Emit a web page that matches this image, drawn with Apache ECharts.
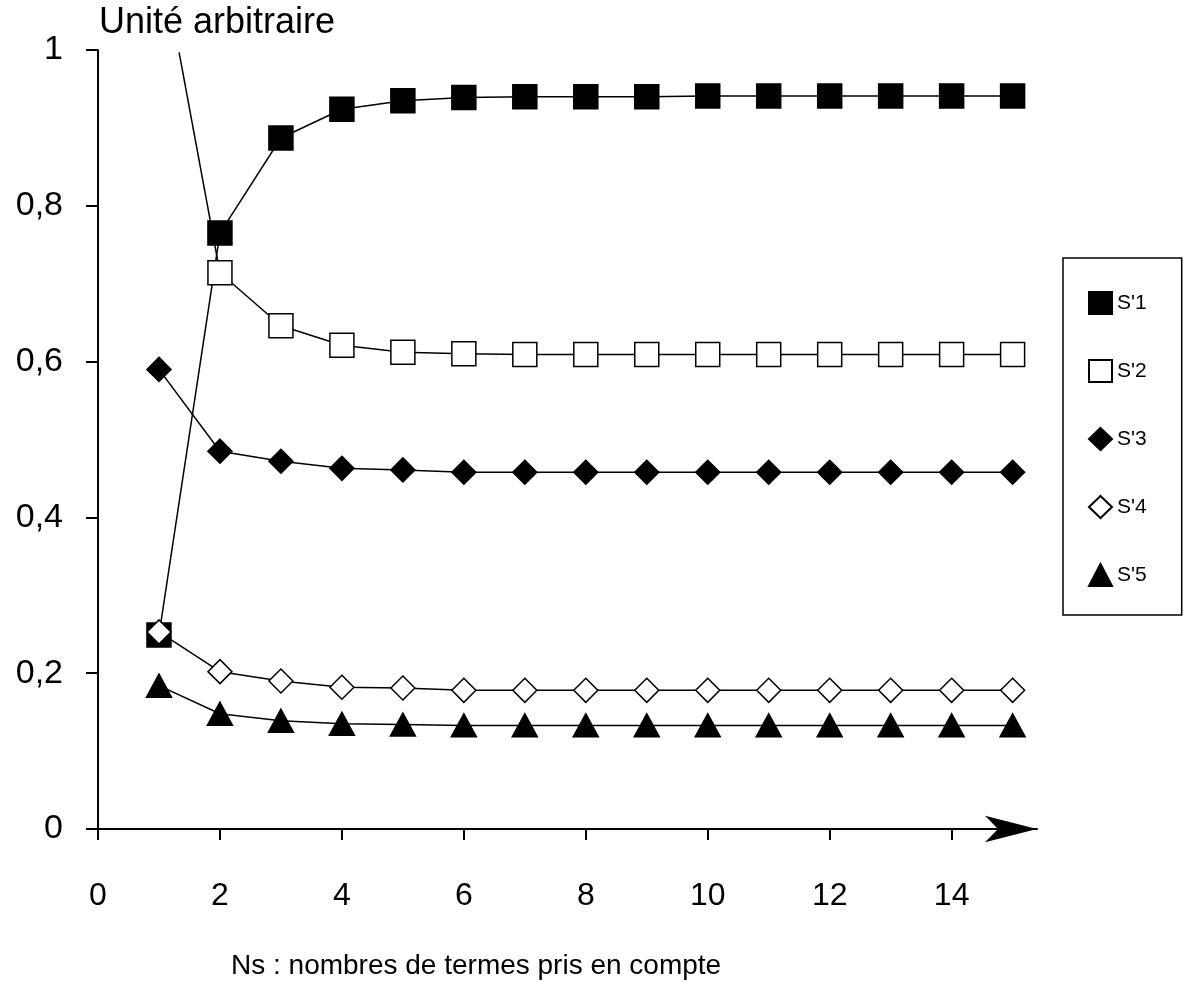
<!DOCTYPE html>
<html>
<head>
<meta charset="utf-8">
<script src="https://cdn.jsdelivr.net/npm/echarts@6/dist/echarts.min.js"></script>
<style>html,body{margin:0;padding:0;background:#fff}#c{width:1186px;height:997px}</style>
</head>
<body>
<div id="c"></div>
<script>
const xValues = [1, 2, 3, 4, 5, 6, 7, 8, 9, 10, 11, 12, 13, 14, 15];
const seriesNames = ["S'1", "S'2", "S'3", "S'4", "S'5"];
const s1 = [0.249, 0.765, 0.887, 0.924, 0.935, 0.939, 0.940, 0.940, 0.940, 0.941, 0.941, 0.941, 0.941, 0.941, 0.941];
const s2 = [null, 0.714, 0.646, 0.621, 0.612, 0.610, 0.609, 0.609, 0.609, 0.609, 0.609, 0.609, 0.609, 0.609, 0.609];
const s3 = [0.590, 0.485, 0.472, 0.463, 0.461, 0.458, 0.458, 0.458, 0.458, 0.458, 0.458, 0.458, 0.458, 0.458, 0.458];
const s4 = [0.253, 0.202, 0.190, 0.182, 0.181, 0.178, 0.178, 0.178, 0.178, 0.178, 0.178, 0.178, 0.178, 0.178, 0.178];
const s5 = [0.184, 0.148, 0.139, 0.135, 0.134, 0.133, 0.133, 0.133, 0.133, 0.133, 0.133, 0.133, 0.133, 0.133, 0.133];
const xTicks = [0, 2, 4, 6, 8, 10, 12, 14];
const yAxisTitle = "Unité arbitraire";
const xAxisTitle = "Ns : nombres de termes pris en compte";
const leaderLine = [[1.33, 0.997], [2, 0.714]];

const FONT = "'Liberation Sans', Arial, Helvetica, sans-serif";
const pair = arr => xValues.map((x, i) => [x, arr[i]]).filter(p => p[1] !== null);

const styles = [
  { symbol: 'rect', size: 24, fill: '#000' },
  { symbol: 'rect', size: 24, fill: '#fff' },
  { symbol: 'diamond', size: 24, fill: '#000' },
  { symbol: 'diamond', size: 24, fill: '#fff' },
  { symbol: 'triangle', size: [25, 23], fill: '#000' }
];
const dataSets = [s1, s2, s3, s4, s5];

const series = dataSets.map((d, i) => {
  const s = {
    name: seriesNames[i],
    type: 'line',
    data: pair(d),
    symbol: styles[i].symbol,
    symbolSize: styles[i].size,
    showAllSymbol: true,
    z: 2 + i * 0.1,
    lineStyle: { color: '#000', width: 1.5 },
    itemStyle: { color: styles[i].fill, borderColor: '#000', borderWidth: 1.5, opacity: 1 },
    emphasis: { disabled: true },
    animation: false
  };
  if (i === 1) {
    s.markLine = {
      silent: true,
      symbol: ['none', 'none'],
      z: 1,
      label: { show: false },
      lineStyle: { color: '#000', width: 1.5, type: 'solid' },
      data: [[{ coord: leaderLine[0] }, { coord: leaderLine[1] }]]
    };
  }
  return s;
});

const chart = echarts.init(document.getElementById('c'), null, { renderer: 'canvas' });
chart.setOption({
  backgroundColor: '#fff',
  animation: false,
  textStyle: { fontFamily: FONT, color: '#000' },
  grid: { left: 98, right: 149, top: 50, bottom: 168, containLabel: false },
  xAxis: {
    type: 'value',
    min: 0,
    max: 15.4,
    splitLine: { show: false },
    axisLine: { show: true, onZero: false, lineStyle: { color: '#000', width: 2 }, symbol: ['none', 'arrow'], symbolSize: [20, 52] },
    axisTick: { show: true, inside: false, length: 11, lineStyle: { color: '#000', width: 2 }, customValues: xTicks },
    axisLabel: { show: true, margin: 51, fontSize: 32, color: '#000', fontFamily: FONT, customValues: xTicks }
  },
  yAxis: {
    type: 'value',
    min: 0,
    max: 1,
    interval: 0.2,
    splitLine: { show: false },
    axisLine: { show: true, lineStyle: { color: '#000', width: 2 } },
    axisTick: { show: true, inside: false, length: 12, lineStyle: { color: '#000', width: 2 } },
    axisLabel: {
      margin: 35, fontSize: 34, color: '#000', fontFamily: FONT,
      formatter: v => String(Math.round(v * 10) / 10).replace('.', ',')
    }
  },
  legend: {
    orient: 'vertical',
    left: 1063,
    top: 258,
    padding: [33, 35, 28, 25],
    itemGap: 44,
    itemWidth: 23,
    itemHeight: 22,
    borderColor: '#000',
    borderWidth: 1.5,
    selectedMode: false,
    textStyle: { fontSize: 21, fontFamily: FONT, color: '#000' },
    data: seriesNames.map((n, i) => ({ name: n, icon: styles[i].symbol }))
  },
  graphic: [
    { type: 'text', left: 99, top: 5, style: { text: yAxisTitle, font: '36px ' + FONT, fill: '#000' } },
    { type: 'text', left: 231, top: 952, style: { text: xAxisTitle, font: '28px ' + FONT, fill: '#000' } }
  ],
  series: series
});
</script>
</body>
</html>
